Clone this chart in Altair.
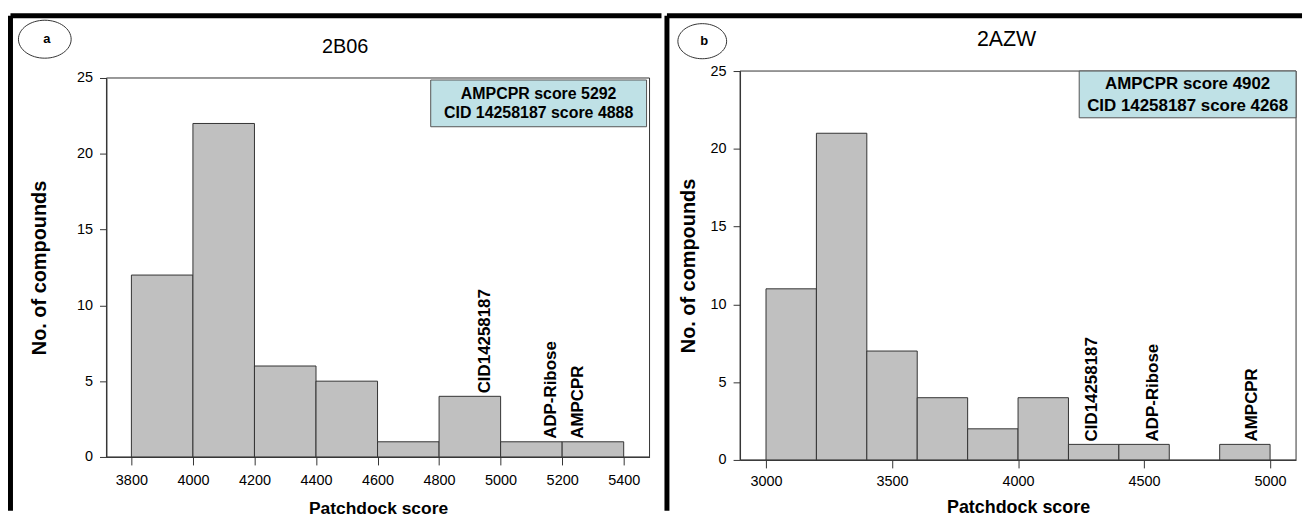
import altair as alt
import pandas as pd

FONT = "Liberation Sans"

# ---------------- data ----------------
y_ticks = [0, 5, 10, 15, 20, 25]
label_names = ["CID14258187", "ADP-Ribose", "AMPCPR"]

# panel a : 2B06
a_title = "2B06"
a_letter = "a"
a_bin_start = [3800, 4000, 4200, 4400, 4600, 4800, 5000, 5200]
a_bin_end = [4000, 4200, 4400, 4600, 4800, 5000, 5200, 5400]
a_counts = [12, 22, 6, 5, 1, 4, 1, 1]
a_x_ticks = [3800, 4000, 4200, 4400, 4600, 4800, 5000, 5200, 5400]
a_x_domain = [3719, 5484]
a_label_x = [4950, 5165, 5250]
a_label_y = [4, 1, 1]
a_box_lines = ["AMPCPR score 5292", "CID 14258187 score 4888"]

# panel b : 2AZW
b_title = "2AZW"
b_letter = "b"
b_bin_start = [3000, 3200, 3400, 3600, 3800, 4000, 4200, 4400, 4600, 4800]
b_bin_end = [3200, 3400, 3600, 3800, 4000, 4200, 4400, 4600, 4800, 5000]
b_counts = [11, 21, 7, 4, 2, 4, 1, 1, 0, 1]
b_x_ticks = [3000, 3500, 4000, 4500, 5000]
b_x_domain = [2897, 5103]
b_label_x = [4295, 4535, 4928]
b_label_y = [1, 1, 1]
b_box_lines = ["AMPCPR score 4902", "CID 14258187 score 4268"]

x_title = "Patchdock score"
y_title = "No. of compounds"

ONE = pd.DataFrame({"k": [0]})
ELLIPSE = "M-1,0 A1,0.72 0 1,1 1,0 A1,0.72 0 1,1 -1,0 Z"


def rule(x, y, x2=None, y2=None, color="black", width=5):
    enc = dict(x=alt.value(x), y=alt.value(y))
    if x2 is not None:
        enc["x2"] = alt.value(x2)
    if y2 is not None:
        enc["y2"] = alt.value(y2)
    return alt.Chart(ONE).mark_rule(color=color, strokeWidth=width).encode(**enc)


def text(txt, x, y, size, weight="normal"):
    return alt.Chart(ONE).mark_text(
        font=FONT, fontSize=size, fontWeight=weight, color="black",
        align="center", baseline="middle"
    ).encode(x=alt.value(x), y=alt.value(y), text=alt.value(txt))


def panel(starts, ends, counts, xdom, xticks, lab_x, lab_y, box_lines,
          title, letter, g):
    W, H = g["W"], g["H"]
    xscale = alt.Scale(domain=xdom, nice=False, zero=False)
    yscale = alt.Scale(domain=[0, 25], nice=False, range=[H, g["ytop"]])
    xaxis = alt.Axis(
        values=xticks, title=x_title, grid=False, format="d",
        labelFont=FONT, labelFontSize=14.5, labelColor="black",
        titleFont=FONT, titleFontSize=g["xt_fs"], titleFontWeight="bold",
        titleColor="black", tickSize=8, labelPadding=g["x_lp"],
        titlePadding=g["x_tp"], domainColor="#333", tickColor="#333")
    yaxis = alt.Axis(
        values=y_ticks, title=y_title, grid=False,
        labelFont=FONT, labelFontSize=14.5, labelColor="black",
        titleFont=FONT, titleFontSize=g["yt_fs"], titleFontWeight="bold",
        titleColor="black", tickSize=7, labelPadding=7,
        titlePadding=g["y_tp"], domainColor="#333", tickColor="#333")

    bars_df = pd.DataFrame({"start": starts, "end": ends, "count": counts})
    bars_df = bars_df[bars_df["count"] > 0]
    bars = alt.Chart(bars_df).mark_rect(
        fill="#c0c0c0", stroke="#333333", strokeWidth=1
    ).encode(
        x=alt.X("start:Q", scale=xscale, axis=xaxis),
        x2="end:Q",
        y=alt.Y("count:Q", scale=yscale, axis=yaxis),
        y2=alt.datum(0),
    )
    lab_df = pd.DataFrame({"name": label_names, "lx": lab_x, "ly": lab_y})
    labels = alt.Chart(lab_df).mark_text(
        angle=270, align="left", baseline="middle", dx=3,
        font=FONT, fontSize=g["lab_fs"], fontWeight="bold", color="black"
    ).encode(
        x=alt.X("lx:Q", scale=xscale, axis=xaxis),
        y=alt.Y("ly:Q", scale=yscale, axis=yaxis),
        text="name:N",
    )
    frame = alt.Chart(ONE).mark_rect(
        fill="transparent", stroke="#333333", strokeWidth=1
    ).encode(x=alt.value(0), x2=alt.value(W), y=alt.value(g["ytop"]), y2=alt.value(H))
    bx1, bx2, by1, by2 = g["box"]
    box = alt.Chart(ONE).mark_rect(
        fill="#bfe1e6", stroke="#555555", strokeWidth=1
    ).encode(x=alt.value(bx1), x2=alt.value(bx2), y=alt.value(by1), y2=alt.value(by2))
    bc = (bx1 + bx2) / 2
    t1 = text(box_lines[0], bc, g["line_y"][0], g["box_fs"], "bold")
    t2 = text(box_lines[1], bc, g["line_y"][1], g["box_fs"], "bold")
    ttl = text(title, g["title"][0], g["title"][1], g["title_fs"])
    ex, ey = g["ellipse"]
    ell = alt.Chart(ONE).mark_point(
        shape=ELLIPSE, size=g["ell_w"] ** 2, filled=True, fill="white",
        stroke="#333333", strokeWidth=1, opacity=1
    ).encode(x=alt.value(ex), y=alt.value(ey))
    let = text(letter, ex + 2, ey, 13, "bold")
    bl = g["border"]
    vborder = rule(bl["x"], bl["y"], y2=bl["y2"])
    hborder = rule(bl["x"], bl["y"], x2=bl["x2"])
    return alt.layer(frame, bars, labels, box, t1, t2, ttl, ell, let,
                     vborder, hborder).properties(width=W, height=H)


# both plot origins sit at page y = 70
ga = dict(W=546, H=388, ytop=7, xt_fs=17.5, yt_fs=20, x_lp=9, x_tp=12, y_tp=27,
          lab_fs=17,
          box=(326, 543, 9, 56), line_y=(23, 42), box_fs=16,
          title=(240, -24), title_fs=20, ellipse=(-62, -32), ell_w=53,
          border=dict(x=-96.5, y=-55.5, y2=442, x2=558))
gb = dict(W=559, H=391, ytop=0, xt_fs=18, yt_fs=20, x_lp=7, x_tp=10, y_tp=12,
          lab_fs=17,
          box=(341, 559, 0, 47), line_y=(13, 35), box_fs=17,
          title=(268, -31), title_fs=21.5, ellipse=(-38, -30), ell_w=49,
          border=dict(x=-73.5, y=-55.5, y2=442, x2=565))

left = panel(a_bin_start, a_bin_end, a_counts, a_x_domain, a_x_ticks,
             a_label_x, a_label_y, a_box_lines, a_title, a_letter, ga)
right = panel(b_bin_start, b_bin_end, b_counts, b_x_domain, b_x_ticks,
              b_label_x, b_label_y, b_box_lines, b_title, b_letter, gb)

chart = alt.hconcat(left, right, spacing=0).properties(
    padding={"left": 0, "top": 4, "right": 0, "bottom": 0},
    background="white",
).configure_view(strokeWidth=0)

chart.save("out.html", embed_options={"renderer": "svg", "actions": False})
